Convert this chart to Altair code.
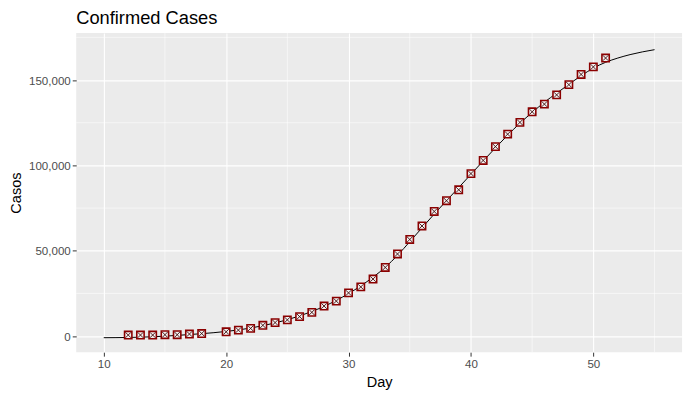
import altair as alt
import pandas as pd

# observed points
days = [12, 13, 14, 15, 16, 17, 18, 20, 21, 22, 23, 24, 25, 26, 27, 28, 29, 30,
        31, 32, 33, 34, 35, 36, 37, 38, 39, 40, 41, 42, 43, 44, 45, 46, 47, 48,
        49, 50, 51]
cases = [600, 600, 600, 800, 800, 1200, 1500, 2500, 3500, 4500, 6300, 7900,
         9500, 11400, 13900, 17600, 20500, 25300, 28800, 33400, 40200, 48100,
         56600, 64500, 73000, 79300, 85700, 95200, 102900, 111000, 118300,
         125200, 131400, 135900, 141300, 147300, 153300, 157700, 162900]

# fitted curve
fit_days = list(range(10, 56))
fit_cases = [-950, -900, -800, -650, -400, -50, 400, 900, 1400, 2000, 2700, 3600,
             4700, 6100, 7700, 9600, 11800, 14400, 17400, 20900, 24900, 29400,
             34500, 40300, 47300, 55300, 63400, 71500, 79300, 87000, 94800,
             102600, 110300, 117700, 124700, 131000, 137000, 142300, 147500,
             152500, 157000, 160400, 162900, 164900, 166500, 167800]

x_ticks = [10, 20, 30, 40, 50]
y_ticks = [0, 50000, 100000, 150000]
x_minor = [15, 25, 35, 45, 55]
y_minor = [25000, 75000, 125000, 175000]

pts = pd.DataFrame({"Day": days, "Casos": cases})
fit = pd.DataFrame({"Day": fit_days, "Casos": fit_cases})
xm = pd.DataFrame({"v": x_minor})
ym = pd.DataFrame({"v": y_minor})

xscale = alt.Scale(domain=[7.75, 57.25], nice=False, zero=False)
yscale = alt.Scale(domain=[-9450, 177600], nice=False, zero=False)

x_axis = alt.Axis(values=x_ticks, labelExpr="format(datum.value, 'd')", title="Day")
y_axis = alt.Axis(values=y_ticks, labelExpr="format(datum.value, ',')", title="Casos")

x_enc = alt.X("Day:Q", scale=xscale, axis=x_axis)
y_enc = alt.Y("Casos:Q", scale=yscale, axis=y_axis)

vminor = alt.Chart(xm).mark_rule(color="white", strokeWidth=0.55).encode(
    x=alt.X("v:Q", scale=xscale, axis=x_axis))
hminor = alt.Chart(ym).mark_rule(color="white", strokeWidth=0.55).encode(
    y=alt.Y("v:Q", scale=yscale, axis=y_axis))

line = alt.Chart(fit).mark_line(color="black", strokeWidth=1,
                                interpolate="monotone").encode(x=x_enc, y=y_enc)

square = alt.Chart(pts).mark_point(
    shape="M-1,-1H1V1H-1Z", size=55, filled=False, fill="#F4F0F0",
    fillOpacity=1, stroke="#8B0000", strokeWidth=1.6, opacity=1
).encode(x=x_enc, y=y_enc)

cross = alt.Chart(pts).mark_point(
    shape="M-0.75,-0.75L0.75,0.75M-0.75,0.75L0.75,-0.75", size=55,
    filled=False, stroke="#3a0808", strokeWidth=0.9, opacity=1
).encode(x=x_enc, y=y_enc)

chart = alt.layer(vminor, hminor, line, square, cross).properties(
    width=613, height=323,
    background="white",
    title=alt.TitleParams("Confirmed Cases", anchor="start", frame="group",
                          fontSize=18.5, font="Liberation Sans",
                          fontWeight="normal", color="black", offset=5),
    autosize=alt.AutoSizeParams(type="none"),
    padding={"left": 69, "top": 23, "right": 8, "bottom": 36},
).configure_view(fill="#EBEBEB", stroke=None).configure_axis(
    domain=False, grid=True, gridColor="white", gridWidth=1.1,
    tickColor="#333333", tickSize=4, tickWidth=1,
    labelColor="#4D4D4D", labelFont="Liberation Sans", labelFontSize=11.7,
    labelPadding=2,
    titleFont="Liberation Sans", titleFontSize=14.7, titleFontWeight="normal",
    titleColor="black", titlePadding=5
)

chart.save("out.html", embed_options={"renderer": "svg", "actions": False})
